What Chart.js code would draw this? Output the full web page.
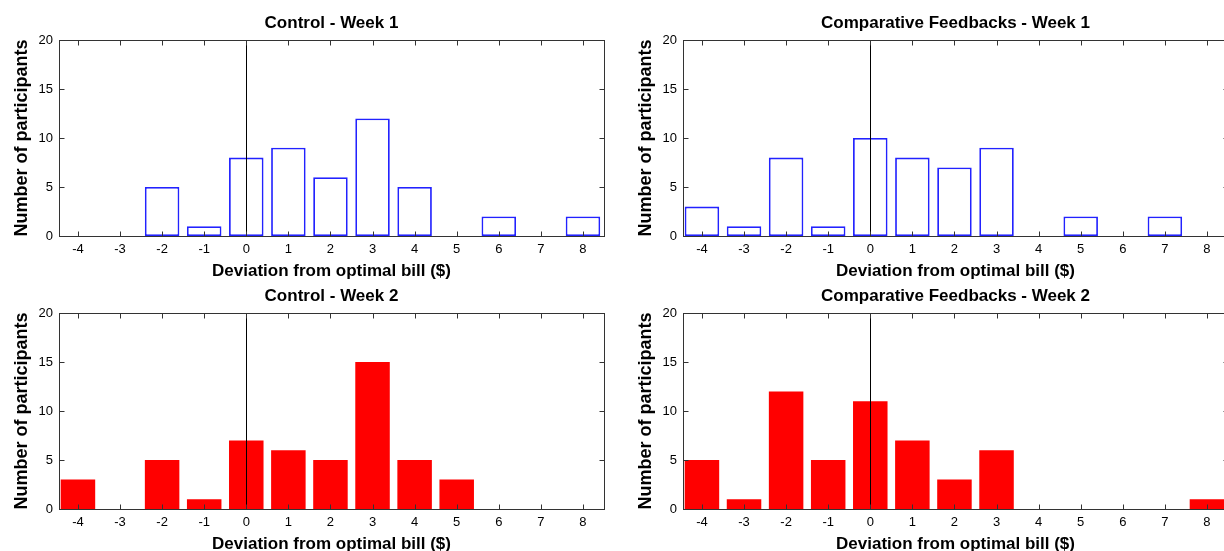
<!DOCTYPE html>
<html>
<head>
<meta charset="utf-8">
<script src="https://cdn.jsdelivr.net/npm/chart.js@4"></script>
<style>
html, body { margin: 0; padding: 0; background: #fff; overflow: hidden; }
#wrap { position: relative; width: 1224px; height: 551px; overflow: hidden; }
canvas { position: absolute; }
</style>
</head>
<body>
<div id="wrap">
  <canvas id="c1" width="612" height="285" style="left:0px;top:0px"></canvas>
  <canvas id="c2" width="612" height="285" style="left:624px;top:0px"></canvas>
  <canvas id="c3" width="612" height="285" style="left:0px;top:273px"></canvas>
  <canvas id="c4" width="612" height="285" style="left:624px;top:273px"></canvas>
</div>
<script>
// bins (deviation in $) and counts
const deviations = [-4, -3, -2, -1, 0, 1, 2, 3, 4, 5, 6, 7, 8];
const controlWeek1  = [0, 0, 5, 1, 8, 9, 6, 12, 5, 0, 2, 0, 2];
const feedbackWeek1 = [3, 1, 8, 1, 10, 8, 7, 9, 0, 2, 0, 2, 0];
const controlWeek2  = [3, 0, 5, 1, 7, 6, 5, 15, 5, 3, 0, 0, 0];
const feedbackWeek2 = [5, 1, 12, 5, 11, 7, 3, 6, 0, 0, 0, 0, 1];
const yTicks = [0, 5, 10, 15, 20];

const FONT = "'Liberation Sans', Arial, sans-serif";

// box around the axes, inward tick marks, vertical line at 0
const framePlugin = {
  id: 'frame',
  afterDraw(chart) {
    const { ctx, chartArea: a, scales: { x, y } } = chart;
    const L = Math.round(a.left) + 0.5, R = Math.round(a.right) + 0.5;
    const T = Math.round(a.top) + 0.5, B = Math.round(a.bottom) + 0.5;
    ctx.save();
    ctx.lineWidth = 1;
    ctx.strokeStyle = '#000';
    const x0 = Math.round(x.getPixelForValue(0)) + 0.5;
    ctx.beginPath();
    ctx.moveTo(x0, T);
    ctx.lineTo(x0, B);
    ctx.stroke();

    ctx.strokeStyle = '#333';
    ctx.strokeRect(L, T, R - L, B - T);
    ctx.beginPath();
    deviations.forEach(v => {
      const px = Math.round(x.getPixelForValue(v)) + 0.5;
      ctx.moveTo(px, B); ctx.lineTo(px, B - 5);
      ctx.moveTo(px, T); ctx.lineTo(px, T + 5);
    });
    yTicks.forEach(v => {
      const py = Math.round(y.getPixelForValue(v)) + 0.5;
      ctx.moveTo(L, py); ctx.lineTo(L + 5, py);
      ctx.moveTo(R, py); ctx.lineTo(R - 5, py);
    });
    ctx.stroke();
    ctx.restore();
  }
};

function makeChart(id, title, counts, filled) {
  new Chart(document.getElementById(id), {
    type: 'bar',
    data: {
      datasets: [{
        data: deviations.map((d, i) => ({ x: d, y: counts[i] })),
        backgroundColor: filled ? '#ff0000' : '#ffffff',
        borderColor: filled ? '#ff0000' : '#2222ff',
        borderWidth: filled ? 0 : 1.8,
        borderSkipped: false,
        barPercentage: 0.82,
        categoryPercentage: 1
      }]
    },
    options: {
      responsive: false,
      animation: false,
      devicePixelRatio: 1,
      layout: { padding: { left: 0, right: 8, top: 0, bottom: 0 } },
      plugins: {
        legend: { display: false },
        tooltip: { enabled: false },
        title: {
          display: true,
          fullSize: false,
          text: title,
          color: '#000',
          font: { family: FONT, size: 17, weight: 'bold' },
          padding: { top: 13, bottom: 6.6 }
        }
      },
      scales: {
        x: {
          type: 'linear',
          offset: false,
          min: -4.45,
          max: 8.5,
          grid: { display: false, drawTicks: false },
          border: { display: false },
          afterBuildTicks: s => { s.ticks = deviations.map(v => ({ value: v })); },
          afterFit: s => { s.height = 49; },
          ticks: { color: '#000', padding: 6, font: { family: FONT, size: 13 } },
          title: {
            display: true,
            text: 'Deviation from optimal bill ($)',
            color: '#000',
            font: { family: FONT, size: 17, weight: 'bold' },
            padding: { top: 0, bottom: 3.5 }
          }
        },
        y: {
          min: 0,
          max: 20,
          grid: { display: false, drawTicks: false },
          border: { display: false },
          afterBuildTicks: s => { s.ticks = yTicks.map(v => ({ value: v })); },
          afterFit: s => { s.width = 59; },
          ticks: { color: '#000', padding: 6, font: { family: FONT, size: 13 } },
          title: {
            display: true,
            text: 'Number of participants',
            color: '#000',
            font: { family: FONT, size: 18, weight: 'bold' },
            padding: { top: 11, bottom: 0 }
          }
        }
      }
    },
    plugins: [framePlugin]
  });
}

makeChart('c1', 'Control - Week 1', controlWeek1, false);
makeChart('c2', 'Comparative Feedbacks - Week 1', feedbackWeek1, false);
makeChart('c3', 'Control - Week 2', controlWeek2, true);
makeChart('c4', 'Comparative Feedbacks - Week 2', feedbackWeek2, true);
</script>
</body>
</html>
